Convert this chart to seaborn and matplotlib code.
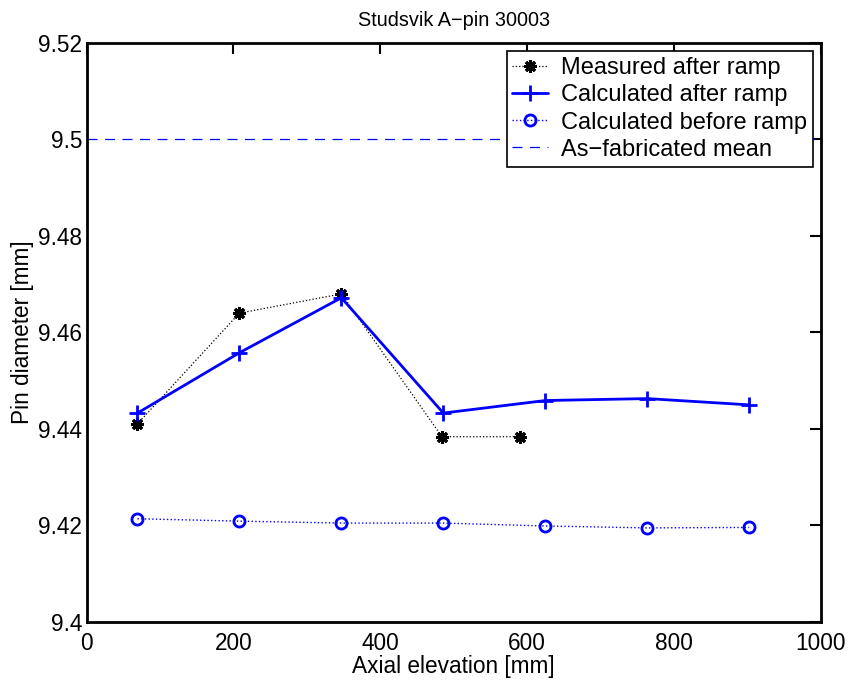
import matplotlib
matplotlib.use("Agg")
import matplotlib.pyplot as plt
import seaborn as sns
import pandas as pd

# ---- data ----
meas_x = [69, 208, 347, 484, 590]
meas_y = [9.441, 9.464, 9.468, 9.4384, 9.4384]

calc_x = [69.4, 208.2, 347.0, 485.8, 624.6, 763.4, 902.2]
calc_after = [9.4433, 9.4558, 9.4672, 9.4433, 9.4459, 9.4463, 9.4450]
calc_before = [9.4214, 9.4209, 9.4205, 9.4205, 9.4199, 9.4195, 9.4196]

fab_mean = 9.50

title = "Studsvik A\u2212pin 30003"
xlabel = "Axial elevation [mm]"
ylabel = "Pin diameter [mm]"
xticks = [0, 200, 400, 600, 800, 1000]
yticks = [9.40, 9.42, 9.44, 9.46, 9.48, 9.50, 9.52]
ytick_labels = ["9.4", "9.42", "9.44", "9.46", "9.48", "9.5", "9.52"]
labels = ["Measured after ramp", "Calculated after ramp",
          "Calculated before ramp", "As\u2212fabricated mean"]

sns.set_style("white")
plt.rcParams['font.family'] = ['Liberation Sans', 'DejaVu Sans']
plt.rcParams['text.color'] = 'black'
plt.rcParams['axes.labelcolor'] = 'black'
plt.rcParams['xtick.color'] = 'black'
plt.rcParams['ytick.color'] = 'black'

FS = 16.3
LFS = 17.0

fig = plt.figure(figsize=(8.49, 6.80), dpi=100)
ax = fig.add_axes([0.1019, 0.0853, 0.8651, 0.8515])

df_meas = pd.DataFrame({"x": meas_x, "y": meas_y})
df_after = pd.DataFrame({"x": calc_x, "y": calc_after})
df_before = pd.DataFrame({"x": calc_x, "y": calc_before})

sns.lineplot(data=df_meas, x="x", y="y", ax=ax, color="black", linestyle=":",
             linewidth=0.9, marker=(8, 2, 0), markersize=9,
             markeredgecolor="black", markerfacecolor="black",
             markeredgewidth=2.2, label=labels[0])
sns.lineplot(data=df_after, x="x", y="y", ax=ax, color="#0000ff", linestyle="-",
             linewidth=2.0, marker="+", markersize=11, markeredgewidth=2.0,
             markeredgecolor="#0000ff", label=labels[1])
sns.lineplot(data=df_before, x="x", y="y", ax=ax, color="#0000ff", linestyle=":",
             linewidth=1.0, marker="o", markersize=8, markeredgewidth=2.0,
             markerfacecolor="none", markeredgecolor="#0000ff", label=labels[2])
ax.axhline(fab_mean, color="#0000ff", linestyle=(0, (8, 6)), linewidth=0.9,
           label=labels[3])

ax.set_xlim(0, 1000)
ax.set_ylim(9.40, 9.52)
ax.set_xticks(xticks)
ax.set_xticklabels([str(t) for t in xticks])
ax.set_yticks(yticks)
ax.set_yticklabels(ytick_labels)
ax.tick_params(direction="in", length=8, width=1.5, top=True, right=True,
               labelsize=FS, colors="black")
ax.tick_params(axis="x", pad=7)
ax.tick_params(axis="y", pad=3)
for s in ax.spines.values():
    s.set_visible(True)
    s.set_color("black")
    s.set_linewidth(2.0)

ax.set_xlabel(xlabel, fontsize=FS, labelpad=0, color="black")
ax.set_ylabel(ylabel, fontsize=FS, labelpad=3, color="black")
ax.set_title(title, fontsize=14.3, pad=12, color="black")

leg = ax.legend(loc="upper right", fontsize=LFS, frameon=True, fancybox=False,
                framealpha=1, edgecolor="black", borderpad=0.25,
                labelspacing=0.22, handlelength=1.5, handletextpad=0.55,
                borderaxespad=0.35)
leg.get_frame().set_linewidth(1.2)
for t in leg.get_texts():
    t.set_color("black")

fig.savefig("out.png", dpi=100)
